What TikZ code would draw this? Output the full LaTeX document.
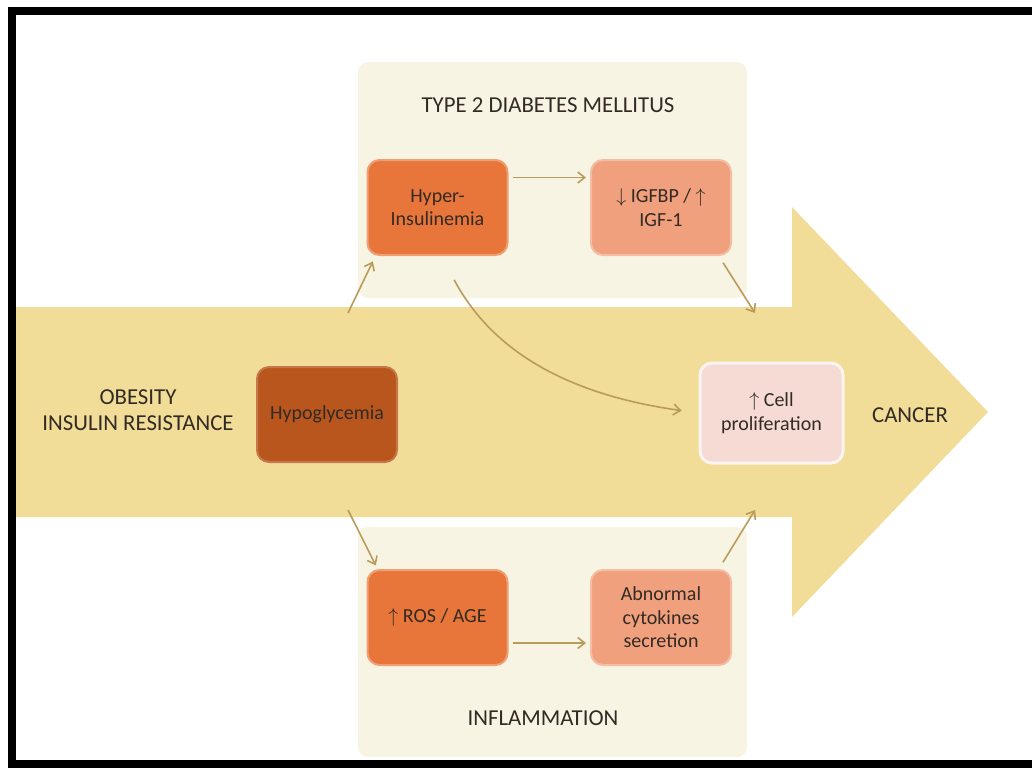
\documentclass[tikz,border=0pt]{standalone}
\usepackage{fontspec}
\setmainfont{Carlito}
\usepackage{tikz}
\usetikzlibrary{arrows.meta}
\definecolor{arrowtan}{RGB}{241,221,152}
\definecolor{panelcream}{RGB}{248,244,228}
\definecolor{orangebox}{RGB}{232,118,58}
\definecolor{salmonbox}{RGB}{240,160,125}
\definecolor{brownbox}{RGB}{184,86,30}
\definecolor{pinkbox}{RGB}{246,218,212}
\definecolor{linktan}{RGB}{185,155,90}
\definecolor{txtdark}{RGB}{50,42,36}

\begin{document}
\begin{tikzpicture}[x=0.5pt, y=-0.5pt,
    box/.style={rounded corners=6pt, minimum width=70pt, minimum height=47.5pt,
        align=center, inner sep=2pt, text=txtdark,
        font=\fontsize{10}{11.8}\selectfont},
    link/.style={draw=linktan, line width=0.8pt,
        -{Straight Barb[length=3.5pt,width=5.5pt]}},
    caption/.style={font=\fontsize{11.4}{13}\selectfont, text=txtdark, align=center}]
    \useasboundingbox (0,0) rectangle (1032,767);
    % panels behind the big arrow
    \fill[panelcream, rounded corners=5pt] (358,62) rectangle (747,298);
    \fill[panelcream, rounded corners=5pt] (358,527) rectangle (747,757);
    % big arrow towards cancer
    \fill[arrowtan] (8,307) -- (792,307) -- (792,207) -- (988,412)
        -- (792,617) -- (792,517) -- (8,517) -- cycle;
    % frame
    \draw[line width=4pt] (1032,11) -- (12,11) -- (12,764) -- (1032,764);

    % captions
    \node[caption] (t2dm) at (548,105) {TYPE 2 DIABETES MELLITUS};
    \node[caption] (inflam) at (543,718) {INFLAMMATION};
    \node[caption] (obesity) at (138,410) {OBESITY\\INSULIN RESISTANCE};
    \node[caption] (cancer) at (910,415) {CANCER};

    % boxes
    \node[box, fill=brownbox, draw=brownbox!80!white, line width=1pt] (hypogly) at (327,414.5) {Hypoglycemia};
    \node[box, fill=orangebox, draw=orangebox!70!white, line width=1pt] (hyperins) at (437.5,207.5) {Hyper-\\Insulinemia};
    \node[box, fill=salmonbox, draw=salmonbox!70!white, line width=1pt] (igfbp) at (661,207.5) {$\downarrow$ IGFBP / $\uparrow$\\IGF-1};
    \node[box, fill=orangebox, draw=orangebox!70!white, line width=1pt] (rosage) at (437.5,617.5) {$\uparrow$ ROS / AGE};
    \node[box, fill=salmonbox, draw=salmonbox!70!white, line width=1pt] (cytok) at (661,617.5) {Abnormal\\cytokines\\secretion};
    \node[box, fill=pinkbox, draw=white!70!pinkbox, line width=1.5pt, minimum width=71.5pt, minimum height=50pt] (cellprol) at (771.5,413) {$\uparrow$ Cell\\proliferation};

    % free ends on the arrow shaft
    \coordinate (outT) at (348,313);
    \coordinate (outB) at (348,510);
    \coordinate (inT) at (755,313);
    \coordinate (inB) at (755,510);

    % connectors
    \draw[link, shorten >=3pt] (outT) -- (hyperins.218);
    \draw[link, shorten >=2pt] (outB) -- (rosage.141);
    \draw[link, shorten <=2pt, shorten >=2pt] ([yshift=15pt]hyperins.east) -- ([yshift=15pt]igfbp.west);
    \draw[link, shorten <=2pt, shorten >=2pt] ([yshift=-12.75pt]rosage.east) -- ([yshift=-12.75pt]cytok.west);
    \draw[link, shorten <=4pt] (igfbp.-40) -- (inT);
    \draw[link, shorten <=4pt] (cytok.40) -- (inB);
    \draw[link, shorten <=13.5pt, shorten >=8.5pt] ([xshift=2pt]hyperins.south) to[out=-62, in=172] (cellprol.west);
\end{tikzpicture}
\end{document}
